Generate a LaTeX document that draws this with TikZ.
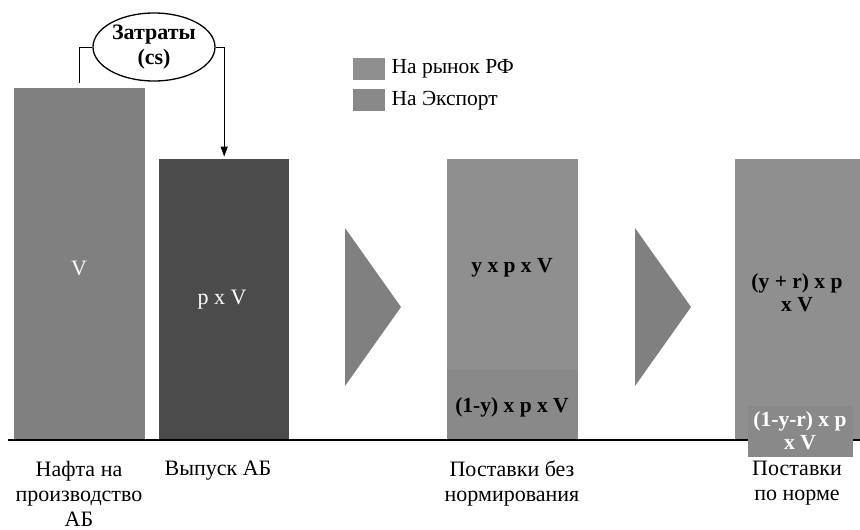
\documentclass[tikz,border=0pt]{standalone}
\usepackage{fontspec}
\setmainfont{Liberation Serif}
\usepackage{tikz}
\usetikzlibrary{shapes.geometric,arrows.meta,positioning}
\definecolor{gNafta}{HTML}{808080}
\definecolor{gVypusk}{HTML}{4B4B4B}
\definecolor{gRynok}{HTML}{8F8F8F}
\definecolor{gExport}{HTML}{898989}
\definecolor{gArrow}{HTML}{808080}

\begin{document}
\begin{tikzpicture}[x=1pt,y=-1pt,
  bar/.style={inner sep=0pt,anchor=south west,draw=none},
  lbl/.style={font=\fontsize{22}{25}\selectfont,align=center,inner sep=0pt},
  val/.style={font=\bfseries\fontsize{21.5}{23}\selectfont,align=center,inner sep=0pt},
  sq/.style={inner sep=0pt,minimum width=32,minimum height=22,anchor=north west}]
\useasboundingbox (0,0) rectangle (860,530);
% bars:
\node[bar,fill=gNafta,minimum width=131,minimum height=352] (nafta) at (14,440) {};
\node[bar,fill=gVypusk,minimum width=130,minimum height=281] (vypusk) at (159,440) {};
\node[bar,fill=gRynok,minimum width=131,minimum height=211] (bezR) at (447,370) {};
\node[bar,fill=gExport,minimum width=131,minimum height=70] (bezE) at (447,440) {};
\node[bar,fill=gRynok,minimum width=125,minimum height=281] (normR) at (735,440) {};
% values:
\node[lbl,text=white] (naftaTxt) at (79,268) {V};
\node[lbl,text=white] (vypuskTxt) at (222,300) {p x V};
\node[val] (bezRtxt) at (512,268) {y x p x V};
\node[val] (bezEtxt) at (512,407) {(1-y) x p x V};
\node[val] (normRtxt) at (797,293) {(y + r) x p\\x V};
% arrows between the groups:
\path[fill=gArrow] (345,228) -- (401,307) -- (345,386) -- cycle;
\path[fill=gArrow] (635,228) -- (691,307) -- (635,386) -- cycle;
% axis:
\draw[line width=1.3pt] (8,440) -- (860,440);
\node[bar,fill=gExport,minimum width=105,minimum height=51] (normE) at (748,457) {};
\node[val,text=white] (normEtxt) at (800,431) {(1-y-r) x p\\x V};
% costs:
\node[draw=black,line width=1.3pt,ellipse,minimum width=122,minimum height=68,inner sep=0pt,
  font=\bfseries\fontsize{22}{25}\selectfont,align=center] (cost) at (154,47) {Затраты\\(cs)};
\draw[line width=1pt,shorten <=5pt] (nafta.north) |- (cost.west);
\draw[line width=1pt,-{Triangle[length=10pt,width=7pt]},shorten >=2pt] (cost.east) -| (vypusk.north);
% legend:
\node[sq,fill=gRynok] (legR) at (353,58) {};
\node[sq,fill=gExport] (legE) at (353,89) {};
\node[lbl,font=\fontsize{21.5}{23}\selectfont,right=6pt of legR] (legRtxt) {На рынок РФ};
\node[lbl,font=\fontsize{21.5}{23}\selectfont,right=6pt of legE] (legEtxt) {На Экспорт};
% captions:
\node[lbl,anchor=north] (tNafta) at (79,461) {Нафта на\\производство\\АБ};
\node[lbl,anchor=north] (tVypusk) at (218,461) {Выпуск АБ};
\node[lbl,anchor=north] (tBez) at (512,461) {Поставки без\\нормирования};
\node[lbl,anchor=north] (tNorm) at (797,461) {Поставки\\по норме};
\end{tikzpicture}
\end{document}
